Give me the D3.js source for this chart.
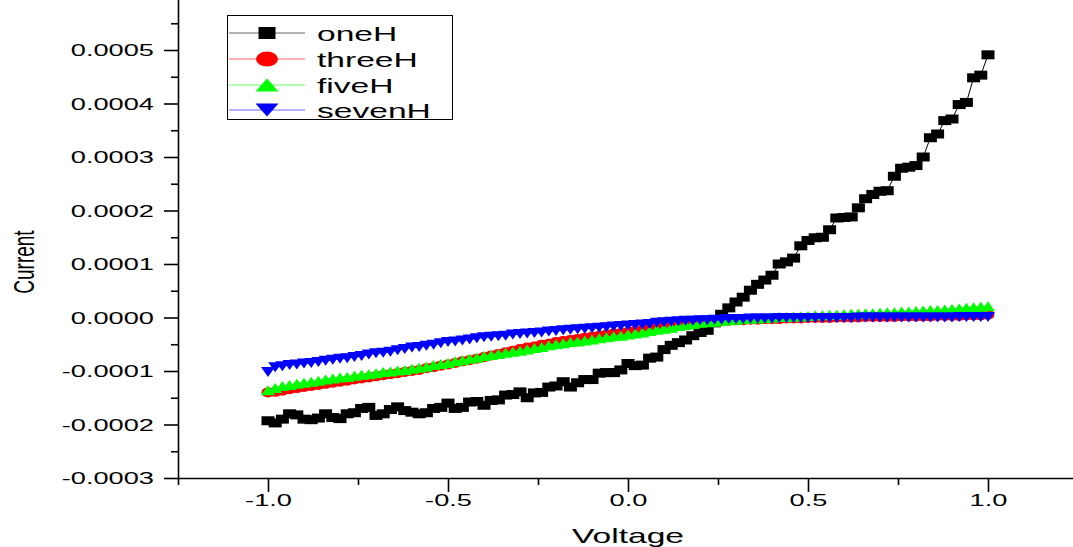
<!DOCTYPE html>
<html><head><meta charset="utf-8">
<script src="https://cdn.jsdelivr.net/npm/d3@7"></script>
<style>body{margin:0;background:#fff}svg{display:block}text{font-family:"Liberation Sans",Arial,sans-serif;fill:#000}</style>
</head><body>
<svg id="c" width="1073" height="547"></svg>
<script>
const voltage = [-1.00,-0.98,-0.96,-0.94,-0.92,-0.90,-0.88,-0.86,-0.84,-0.82,-0.80,-0.78,-0.76,-0.74,-0.72,-0.70,-0.68,-0.66,-0.64,-0.62,-0.60,-0.58,-0.56,-0.54,-0.52,-0.50,-0.48,-0.46,-0.44,-0.42,-0.40,-0.38,-0.36,-0.34,-0.32,-0.30,-0.28,-0.26,-0.24,-0.22,-0.20,-0.18,-0.16,-0.14,-0.12,-0.10,-0.08,-0.06,-0.04,-0.02,0.00,0.02,0.04,0.06,0.08,0.10,0.12,0.14,0.16,0.18,0.20,0.22,0.24,0.26,0.28,0.30,0.32,0.34,0.36,0.38,0.40,0.42,0.44,0.46,0.48,0.50,0.52,0.54,0.56,0.58,0.60,0.62,0.64,0.66,0.68,0.70,0.72,0.74,0.76,0.78,0.80,0.82,0.84,0.86,0.88,0.90,0.92,0.94,0.96,0.98,1.00];

const oneH = [-1.93e-4,-1.97e-4,-1.90e-4,-1.80e-4,-1.82e-4,-1.90e-4,-1.91e-4,-1.88e-4,-1.80e-4,-1.87e-4,-1.89e-4,-1.80e-4,-1.78e-4,-1.70e-4,-1.68e-4,-1.83e-4,-1.80e-4,-1.72e-4,-1.67e-4,-1.74e-4,-1.77e-4,-1.80e-4,-1.78e-4,-1.70e-4,-1.68e-4,-1.60e-4,-1.70e-4,-1.68e-4,-1.58e-4,-1.57e-4,-1.64e-4,-1.55e-4,-1.54e-4,-1.45e-4,-1.44e-4,-1.39e-4,-1.50e-4,-1.41e-4,-1.40e-4,-1.30e-4,-1.28e-4,-1.20e-4,-1.30e-4,-1.22e-4,-1.16e-4,-1.16e-4,-1.04e-4,-1.03e-4,-1.03e-4,-0.98e-4,-0.86e-4,-0.90e-4,-0.89e-4,-0.76e-4,-0.74e-4,-0.60e-4,-0.52e-4,-0.47e-4,-0.42e-4,-0.34e-4,-0.28e-4,-0.24e-4,-0.10e-4,0.06e-4,0.18e-4,0.29e-4,0.38e-4,0.51e-4,0.62e-4,0.70e-4,0.79e-4,1.00e-4,1.04e-4,1.11e-4,1.34e-4,1.44e-4,1.49e-4,1.50e-4,1.64e-4,1.86e-4,1.87e-4,1.88e-4,2.05e-4,2.22e-4,2.30e-4,2.36e-4,2.37e-4,2.64e-4,2.79e-4,2.81e-4,2.84e-4,3.00e-4,3.36e-4,3.43e-4,3.68e-4,3.71e-4,3.98e-4,4.02e-4,4.48e-4,4.53e-4,4.91e-4];

const threeH = [-1.40e-4,-1.39e-4,-1.37e-4,-1.34e-4,-1.32e-4,-1.30e-4,-1.28e-4,-1.26e-4,-1.24e-4,-1.22e-4,-1.20e-4,-1.18e-4,-1.16e-4,-1.14e-4,-1.12e-4,-1.10e-4,-1.08e-4,-1.06e-4,-1.04e-4,-1.02e-4,-1.00e-4,-0.98e-4,-0.95e-4,-0.93e-4,-0.90e-4,-0.88e-4,-0.85e-4,-0.82e-4,-0.80e-4,-0.77e-4,-0.74e-4,-0.71e-4,-0.68e-4,-0.65e-4,-0.62e-4,-0.59e-4,-0.56e-4,-0.54e-4,-0.51e-4,-0.49e-4,-0.46e-4,-0.44e-4,-0.42e-4,-0.40e-4,-0.38e-4,-0.36e-4,-0.34e-4,-0.32e-4,-0.30e-4,-0.29e-4,-0.27e-4,-0.25e-4,-0.23e-4,-0.21e-4,-0.20e-4,-0.18e-4,-0.16e-4,-0.14e-4,-0.13e-4,-0.11e-4,-0.10e-4,-0.09e-4,-0.08e-4,-0.07e-4,-0.06e-4,-0.05e-4,-0.05e-4,-0.04e-4,-0.04e-4,-0.03e-4,-0.03e-4,-0.03e-4,-0.02e-4,-0.02e-4,-0.02e-4,-0.01e-4,-0.01e-4,-0.01e-4,-0.01e-4,0.00,0.00,0.00,0.00,0.01e-4,0.01e-4,0.01e-4,0.01e-4,0.01e-4,0.02e-4,0.02e-4,0.02e-4,0.02e-4,0.02e-4,0.03e-4,0.03e-4,0.03e-4,0.03e-4,0.04e-4,0.04e-4,0.04e-4,0.05e-4];

const fiveH = [-1.36e-4,-1.32e-4,-1.28e-4,-1.26e-4,-1.24e-4,-1.22e-4,-1.20e-4,-1.18e-4,-1.16e-4,-1.14e-4,-1.12e-4,-1.11e-4,-1.09e-4,-1.07e-4,-1.06e-4,-1.04e-4,-1.02e-4,-1.01e-4,-0.99e-4,-0.98e-4,-0.96e-4,-0.94e-4,-0.92e-4,-0.89e-4,-0.87e-4,-0.85e-4,-0.82e-4,-0.80e-4,-0.77e-4,-0.75e-4,-0.72e-4,-0.70e-4,-0.68e-4,-0.66e-4,-0.64e-4,-0.62e-4,-0.60e-4,-0.57e-4,-0.55e-4,-0.52e-4,-0.50e-4,-0.48e-4,-0.46e-4,-0.45e-4,-0.43e-4,-0.41e-4,-0.39e-4,-0.37e-4,-0.35e-4,-0.34e-4,-0.32e-4,-0.30e-4,-0.28e-4,-0.25e-4,-0.23e-4,-0.21e-4,-0.19e-4,-0.16e-4,-0.14e-4,-0.12e-4,-0.10e-4,-0.09e-4,-0.08e-4,-0.06e-4,-0.05e-4,-0.04e-4,-0.03e-4,-0.02e-4,-0.02e-4,-0.01e-4,0.00,0.01e-4,0.01e-4,0.02e-4,0.02e-4,0.03e-4,0.04e-4,0.04e-4,0.05e-4,0.05e-4,0.06e-4,0.07e-4,0.07e-4,0.08e-4,0.08e-4,0.09e-4,0.10e-4,0.10e-4,0.11e-4,0.11e-4,0.12e-4,0.13e-4,0.14e-4,0.14e-4,0.15e-4,0.16e-4,0.17e-4,0.18e-4,0.19e-4,0.20e-4,0.21e-4];

const sevenH = [-1.02e-4,-0.93e-4,-0.91e-4,-0.89e-4,-0.88e-4,-0.86e-4,-0.85e-4,-0.83e-4,-0.81e-4,-0.79e-4,-0.77e-4,-0.76e-4,-0.74e-4,-0.72e-4,-0.69e-4,-0.67e-4,-0.66e-4,-0.64e-4,-0.61e-4,-0.59e-4,-0.56e-4,-0.55e-4,-0.53e-4,-0.51e-4,-0.48e-4,-0.46e-4,-0.45e-4,-0.43e-4,-0.41e-4,-0.39e-4,-0.37e-4,-0.36e-4,-0.35e-4,-0.34e-4,-0.32e-4,-0.31e-4,-0.30e-4,-0.29e-4,-0.28e-4,-0.26e-4,-0.25e-4,-0.24e-4,-0.23e-4,-0.22e-4,-0.21e-4,-0.20e-4,-0.19e-4,-0.18e-4,-0.17e-4,-0.16e-4,-0.15e-4,-0.14e-4,-0.13e-4,-0.12e-4,-0.10e-4,-0.09e-4,-0.08e-4,-0.07e-4,-0.06e-4,-0.06e-4,-0.05e-4,-0.05e-4,-0.04e-4,-0.04e-4,-0.03e-4,-0.03e-4,-0.03e-4,-0.02e-4,-0.02e-4,-0.02e-4,-0.02e-4,-0.01e-4,-0.01e-4,-0.01e-4,-0.01e-4,-0.01e-4,-0.01e-4,-0.01e-4,-0.01e-4,-0.01e-4,-0.01e-4,-0.01e-4,0.00,0.00,0.00,0.00,0.00,0.00,0.00,0.00,0.00,0.00,0.00,0.00,0.00,0.00,0.01e-4,0.01e-4,0.01e-4,0.01e-4,0.01e-4];

const seriesNames = ["oneH", "threeH", "fiveH", "sevenH"];
const seriesColors = ["#000000", "#ff0000", "#00ff00", "#0000ff"];
const seriesShapes = ["square", "circle", "triangleUp", "triangleDown"];

const yMajorTicks = [-0.0003, -0.0002, -0.0001, 0, 0.0001, 0.0002, 0.0003, 0.0004, 0.0005];
const yTickLabels = ["-0.0003", "-0.0002", "-0.0001", "0.0000", "0.0001", "0.0002", "0.0003", "0.0004", "0.0005"];
const yMinorTicks = [-0.00025, -0.00015, -0.00005, 0.00005, 0.00015, 0.00025, 0.00035, 0.00045, 0.00055];
const xMajorTicks = [-1.0, -0.5, 0.0, 0.5, 1.0];
const xTickLabels = ["-1.0", "-0.5", "0.0", "0.5", "1.0"];
const xMinorTicks = [-1.25, -0.75, -0.25, 0.25, 0.75];

const xTitle = "Voltage";
const yTitle = "Current";

const SX = 1.6; // horizontal stretch of the original export

const svg = d3.select("#c");
const x = d3.scaleLinear().domain([-1.25, 1.25]).range([178, 1078]);
const y = d3.scaleLinear().domain([-0.0003, 0.0006]).range([478, -3.5]);

const allSeries = [oneH, threeH, fiveH, sevenH];

// data
const plot = svg.append("g");
function drawMarker(sel, shape, color, w, h) {
  if (shape === "square") {
    sel.append("rect").attr("x", -w / 2).attr("y", -h / 2).attr("width", w).attr("height", h).attr("fill", color);
  } else if (shape === "circle") {
    sel.append("ellipse").attr("rx", w / 2).attr("ry", h / 2).attr("fill", color);
  } else if (shape === "triangleUp") {
    sel.append("polygon").attr("points", `${-w/2},${h/2} ${w/2},${h/2} 0,${-h/2}`).attr("fill", color);
  } else {
    sel.append("polygon").attr("points", `${-w/2},${-h/2} ${w/2},${-h/2} 0,${h/2}`).attr("fill", color);
  }
}
const line = d3.line().x(d => x(d[0])).y(d => y(d[1]));
allSeries.forEach((vals, si) => {
  const pts = voltage.map((v, i) => [v, vals[i]]);
  const g = plot.append("g");
  g.append("path").datum(pts).attr("d", line).attr("fill", "none")
    .attr("stroke", seriesColors[si]).attr("stroke-width", 1);
  const m = g.selectAll("g.m").data(pts).join("g").attr("class", "m")
    .attr("transform", d => `translate(${x(d[0])},${y(d[1])})`);
  const sizes = { square: [13, 9], circle: [13, 10], triangleUp: [14, 10], triangleDown: [14, 10] };
  const sz = sizes[seriesShapes[si]];
  drawMarker(m, seriesShapes[si], seriesColors[si], sz[0], sz[1]);
});

// axes
const axisStyle = g => {
  g.select(".domain").attr("stroke", "#000").attr("stroke-width", 1.6);
  g.selectAll(".tick line").attr("stroke", "#000").attr("stroke-width", 1.6);
};
const gy = svg.append("g").attr("transform", `translate(${x(-1.25)},0)`)
  .call(d3.axisLeft(y).tickValues(yMajorTicks).tickFormat((d, i) => yTickLabels[i]).tickSize(14).tickSizeOuter(0).tickPadding(10))
  .call(axisStyle);
gy.selectAll(".tick text").attr("x", 0).attr("dy", null).attr("dominant-baseline", "central")
  .attr("transform", `translate(-24,0) scale(${SX},1)`)
  .attr("font-size", 17).attr("font-family", "Liberation Sans, Arial, sans-serif").attr("fill", "#000");
svg.append("g").attr("transform", `translate(${x(-1.25)},0)`)
  .call(d3.axisLeft(y).tickValues(yMinorTicks).tickFormat("").tickSize(7).tickSizeOuter(0))
  .call(axisStyle).select(".domain").remove();

const gx = svg.append("g").attr("transform", `translate(0,${y(-0.0003)})`)
  .call(d3.axisBottom(x).tickValues(xMajorTicks).tickFormat((d, i) => xTickLabels[i]).tickSize(14).tickSizeOuter(0).tickPadding(8))
  .call(axisStyle);
gx.selectAll(".tick text").attr("y", 0).attr("dy", null).attr("dominant-baseline", "central")
  .attr("transform", `translate(0,22) scale(${SX},1)`)
  .attr("font-size", 17).attr("font-family", "Liberation Sans, Arial, sans-serif").attr("fill", "#000");
svg.append("g").attr("transform", `translate(0,${y(-0.0003)})`)
  .call(d3.axisBottom(x).tickValues(xMinorTicks).tickFormat("").tickSize(7).tickSizeOuter(0))
  .call(axisStyle).select(".domain").remove();

// titles
svg.append("text").attr("text-anchor", "middle")
  .attr("transform", `translate(${x(0)},543) scale(${SX},1)`)
  .attr("font-size", 21).text(xTitle);
svg.append("text").attr("text-anchor", "middle")
  .attr("transform", `translate(34,262) rotate(-90) scale(1,${SX})`)
  .attr("font-size", 19).text(yTitle);

// legend
const leg = svg.append("g");
leg.append("rect").attr("x", 227.5).attr("y", 15.5).attr("width", 225).attr("height", 104)
  .attr("fill", "#fff").attr("stroke", "#000").attr("stroke-width", 1);
const legY = [33, 59, 85, 110];
const legSizes = { square: [17, 12], circle: [22, 15], triangleUp: [23, 13], triangleDown: [23, 13] };
seriesNames.forEach((name, si) => {
  const g = leg.append("g").attr("transform", `translate(0,${legY[si]})`);
  g.append("line").attr("x1", 229).attr("x2", 305).attr("y1", 0).attr("y2", 0)
    .attr("stroke", seriesColors[si]).attr("stroke-width", 1).attr("stroke-opacity", 0.6);
  const mk = g.append("g").attr("transform", "translate(267,0)");
  const sz = legSizes[seriesShapes[si]];
  drawMarker(mk, seriesShapes[si], seriesColors[si], sz[0], sz[1]);
  g.append("text").attr("transform", `translate(317,7.5) scale(${SX},1)`)
    .attr("font-size", 21).text(name);
});
</script>
</body></html>
